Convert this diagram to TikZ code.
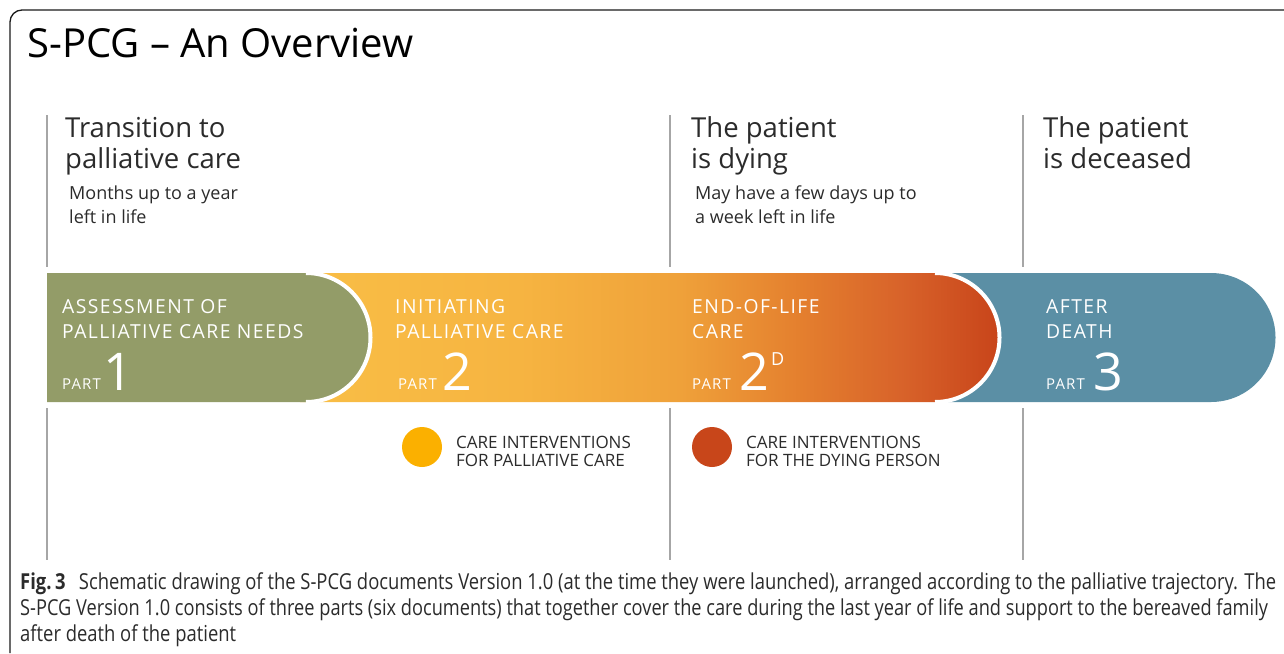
\documentclass[tikz,border=0pt]{standalone}
\usepackage{fontspec}
\setmainfont{Open Sans}
\setsansfont{Open Sans}
\newfontfamily\bandfont[LetterSpace=7.5]{Open Sans}
\newfontfamily\capfont[FakeStretch=0.837]{Open Sans}
\newfontfamily\capfontb[FakeStretch=0.828]{Open Sans}
\usetikzlibrary{calc}
\definecolor{frame}{HTML}{1A1A1A}
\definecolor{vline}{HTML}{A6A6A6}
\definecolor{hdtext}{HTML}{2B2B2B}
\definecolor{green1}{HTML}{939C68}
\definecolor{blue1}{HTML}{5B8FA5}
\definecolor{orA}{HTML}{F9BE46}
\definecolor{orB}{HTML}{F6B441}
\definecolor{orC}{HTML}{EFA13A}
\definecolor{orD}{HTML}{E47F2E}
\definecolor{orE}{HTML}{D8632A}
\definecolor{orF}{HTML}{C8441A}
\definecolor{dotorange}{HTML}{FBB000}
\definecolor{dotred}{HTML}{C8461A}
\pgfdeclarehorizontalshading{bandshade}{100bp}{color(0bp)=(orA); color(25bp)=(orA); color(40.7bp)=(orB); color(52.2bp)=(orC); color(60.8bp)=(orD); color(67.9bp)=(orE); color(75bp)=(orF); color(100bp)=(orF)}
\tikzset{
  hd/.style={anchor=base west, inner sep=0pt, text=hdtext, font=\fontsize{27.5}{30}\selectfont},
  sub/.style={anchor=base west, inner sep=0pt, text=hdtext, font=\fontsize{18}{20}\selectfont},
  bandtxt/.style={anchor=base west, inner sep=0pt, text=white, font=\bandfont\fontsize{19.3}{20}\selectfont},
  parttxt/.style={anchor=base west, inner sep=0pt, text=white, font=\bandfont\fontsize{15}{16}\selectfont},
  numtxt/.style={anchor=base west, inner sep=0pt, text=white, font=\fontsize{52}{56}\selectfont},
  legtxt/.style={anchor=base west, inner sep=0pt, text=hdtext, font=\fontsize{17}{18}\selectfont},
  captxt/.style={anchor=base west, inner sep=0pt, text=hdtext, font=\capfont\fontsize{22}{24}\selectfont},
  gline/.style={draw=vline, line width=1.6pt},
  whitearc/.style={draw=white, line width=4pt},
}
\begin{document}
\begin{tikzpicture}[x=1pt, y=-1pt]
\useasboundingbox (0,0) rectangle (1284,653);
% frame
\draw[frame, line width=1.3pt] (10,653) -- (10,22) arc[start angle=180, end angle=270, radius=12] -- (1284,10);
% title
\node[anchor=base west, inner sep=0pt, text=black, font=\fontsize{40}{44}\selectfont] (title) at (27,57) {S-PCG -- An Overview};
% vertical lines
\foreach \x/\n in {47/a,670/b,1023/c}{
  \coordinate (t\n) at (\x,115); \coordinate (m\n) at (\x,267);
  \coordinate (u\n) at (\x,408); \coordinate (l\n) at (\x,560);
  \draw[gline] (t\n) -- (m\n);
  \draw[gline] (u\n) -- (l\n);
}
% headers
\node[hd] (h1a) at (65,137) {Transition to};
\node[hd] (h1b) at (65,168) {palliative care};
\node[sub] (s1a) at (69,199) {Months up to a year};
\node[sub] (s1b) at (69,223) {left in life};
\node[hd] (h2a) at (691,137) {The patient};
\node[hd] (h2b) at (691,168) {is dying};
\node[sub] (s2a) at (695,199) {May have a few days up to};
\node[sub] (s2b) at (695,223) {a week left in life};
\node[hd] (h3a) at (1043,137) {The patient};
\node[hd] (h3b) at (1043,168) {is deceased};
% band: blue
\fill[blue1] (940,273) -- (1211,273) arc[start angle=-90, end angle=90, radius=64.5] -- (940,402) -- cycle;
% orange gradient
\path[shading=bandshade] (300,273) -- (935,273) arc[start angle=-90, end angle=90, radius=64.5] -- (300,402) -- cycle;
\draw[whitearc] (935,273) arc[start angle=-90, end angle=90, radius=64.5];
% green
\fill[green1] (47,273) -- (306,273) arc[start angle=-90, end angle=90, radius=64.5] -- (47,402) -- cycle;
\draw[whitearc] (306,273) arc[start angle=-90, end angle=90, radius=64.5];
% band texts
\node[bandtxt] (p1a) at (62,313) {ASSESSMENT OF};
\node[bandtxt] (p1b) at (62,338) {PALLIATIVE CARE NEEDS};
\node[parttxt] (p1c) at (62,389) {PART};
\node[numtxt] (p1d) at (103,390) {1};
\node[bandtxt] (p2a) at (395,313) {INITIATING};
\node[bandtxt] (p2b) at (395,338) {PALLIATIVE CARE};
\node[parttxt] (p2c) at (398,389) {PART};
\node[numtxt] (p2d) at (442,390) {2};
\node[bandtxt] (p3a) at (692,313) {END-OF-LIFE};
\node[bandtxt] (p3b) at (692,338) {CARE};
\node[parttxt] (p3c) at (692,389) {PART};
\node[numtxt] (p3d) at (739,390) {2};
\node[anchor=base west, inner sep=0pt, text=white, font=\fontsize{18}{18}\selectfont] (p3e) at (771,365) {D};
\node[bandtxt] (p4a) at (1046,313) {AFTER};
\node[bandtxt] (p4b) at (1046,338) {DEATH};
\node[parttxt] (p4c) at (1046,389) {PART};
\node[numtxt] (p4d) at (1093,390) {3};
% legend
\fill[dotorange] (422,447) circle[radius=20] node (dot1) {};
\node[legtxt] (l1a) at (456,448) {CARE INTERVENTIONS};
\node[legtxt] (l1b) at (456,466) {FOR PALLIATIVE CARE};
\fill[dotred] (712,447) circle[radius=20] node (dot2) {};
\node[legtxt] (l2a) at (746,448) {CARE INTERVENTIONS};
\node[legtxt] (l2b) at (746,466) {FOR THE DYING PERSON};
% caption
\node[captxt] (c1) at (20,589) {\textbf{Fig.\,3}\hspace{0.6em}Schematic drawing of the S-PCG documents Version 1.0 (at the time they were launched), arranged according to the palliative trajectory. The};
\node[captxt, font=\capfontb\fontsize{22}{24}\selectfont] (c2) at (20,615) {S-PCG Version 1.0 consists of three parts (six documents) that together cover the care during the last year of life and support to the bereaved family};
\node[captxt] (c3) at (20,641) {after death of the patient};
\end{tikzpicture}
\end{document}
